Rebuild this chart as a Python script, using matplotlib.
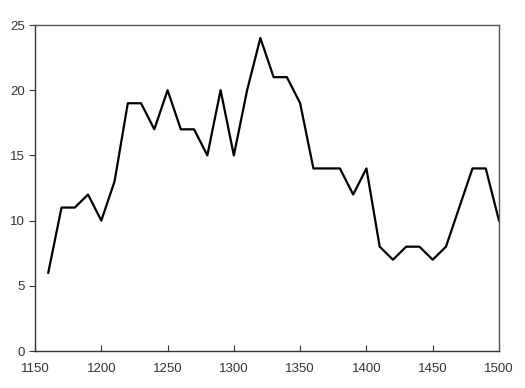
import numpy as np
import matplotlib
matplotlib.use("Agg")
import matplotlib.pyplot as plt

plt.rcParams['font.family'] = ['Liberation Sans', 'DejaVu Sans']

years = [1160, 1170, 1180, 1190, 1200, 1210, 1220, 1230, 1240, 1250,
         1260, 1270, 1280, 1290, 1300, 1310, 1320, 1330, 1340, 1350,
         1360, 1370, 1380, 1390, 1400, 1410, 1420, 1430, 1440, 1450,
         1460, 1470, 1480, 1490, 1500]
counts = [6, 11, 11, 12, 10, 13, 19, 19, 17, 20,
          17, 17, 15, 20, 15, 20, 24, 21, 21, 19,
          14, 14, 14, 12, 14, 8, 7, 8, 8, 7,
          8, 11, 14, 14, 10]

xticks = [1150, 1200, 1250, 1300, 1350, 1400, 1450, 1500]
yticks = [0, 5, 10, 15, 20, 25]

fig = plt.figure(figsize=(5.25, 3.88), dpi=100)
ax = fig.add_axes([35/525, 1 - 351/388, (499 - 35)/525, (351 - 25)/388])

ax.plot(years, counts, color="black", lw=1.6)

ax.set_xlim(1150, 1500)
ax.set_ylim(0, 25)
ax.set_xticks(xticks)
ax.set_yticks(yticks)

for side in ["top", "right"]:
    ax.spines[side].set_color("#555555")
    ax.spines[side].set_linewidth(1.0)
for side in ["left", "bottom"]:
    ax.spines[side].set_color("#333333")
    ax.spines[side].set_linewidth(1.0)

ax.tick_params(axis="x", direction="in", length=4, pad=9, labelsize=9.5, colors="#333333")
ax.tick_params(axis="y", direction="out", length=4, pad=3, labelsize=9.5, colors="#333333")

fig.savefig("out.png", dpi=100, facecolor="white")
